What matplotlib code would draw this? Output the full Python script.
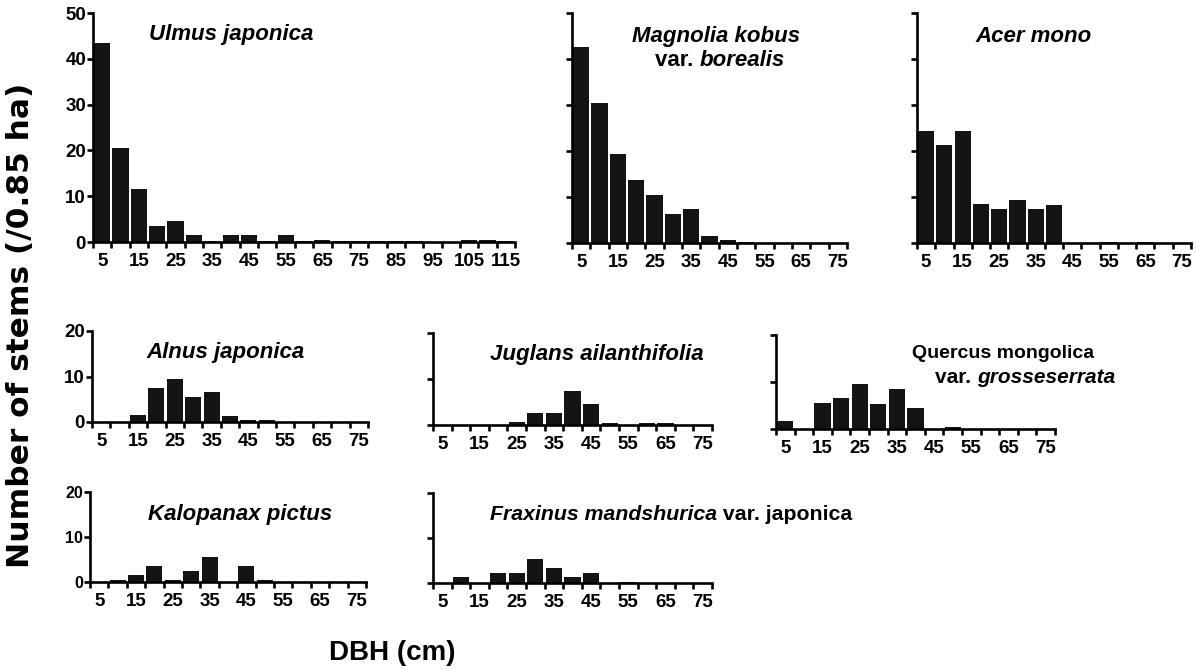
import matplotlib
matplotlib.use("Agg")
import matplotlib.pyplot as plt

plt.rcParams['font.family'] = ['Liberation Sans', 'DejaVu Sans']
plt.rcParams['font.weight'] = 'bold'

# ---------------- data ----------------
dbh_to115 = [5, 10, 15, 20, 25, 30, 35, 40, 45, 50, 55, 60, 65, 70, 75, 80,
             85, 90, 95, 100, 105, 110, 115]
dbh_to75 = [5, 10, 15, 20, 25, 30, 35, 40, 45, 50, 55, 60, 65, 70, 75]

labels_to115 = [5, 15, 25, 35, 45, 55, 65, 75, 85, 95, 105, 115]
labels_to75 = [5, 15, 25, 35, 45, 55, 65, 75]

ulmus = [43.5, 20.5, 11.5, 3.5, 4.5, 1.5, 0.2, 1.5, 1.5, 0.2, 1.5, 0.2,
         0.4, 0.15, 0.15, 0.15, 0.15, 0.15, 0.1, 0.1, 0.4, 0.4, 0.3]
magnolia = [42.5, 30.4, 19.4, 13.6, 10.5, 6.4, 7.4, 1.6, 0.6, 0.15, 0.1,
            0.1, 0.1, 0.1, 0.1]
acer = [24.4, 21.3, 24.4, 8.4, 7.3, 9.4, 7.3, 8.3, 0.1, 0.1, 0.2, 0.1,
        0.2, 0.1, 0.1]
alnus = [0, 0, 1.5, 7.4, 9.5, 5.5, 6.5, 1.3, 0.5, 0.5, 0.1, 0.1, 0.1, 0.1, 0.1]
juglans = [0.1, 0.1, 0.1, 0.1, 0.7, 2.7, 2.7, 7.5, 4.6, 0.5, 0.1, 0.5, 0.5,
           0.1, 0.1]
quercus = [1.6, 0, 5.6, 6.6, 9.6, 5.4, 8.5, 4.5, 0, 0.35, 0, 0, 0, 0, 0]
kalopanax = [0, 0.5, 1.5, 3.6, 0.5, 2.5, 5.5, 0, 3.6, 0.4, 0, 0, 0, 0, 0]
fraxinus = [0, 1.3, 0, 2.3, 2.3, 5.3, 3.3, 1.3, 2.3, 0, 0.3, 0, 0, 0, 0]

# ---------------- layout ----------------
W, H = 1196, 670
fig = plt.figure(figsize=(W / 100, H / 100), dpi=100)

BAR_COLOR = '#141414'
TICK_FS = 13.5


def panel(left, right, top, bottom, classes, values, xlabels, ymax, ystep,
          ylabels_on, yfs=TICK_FS):
    ax = fig.add_axes([left / W, 1 - bottom / H, (right - left) / W,
                       (bottom - top) / H])
    width = classes[1] - classes[0]
    ax.bar(classes, values, width=width * 0.88, color=BAR_COLOR,
           edgecolor='none', zorder=2)
    lo = classes[0] - width / 2
    hi = classes[-1] + width / 2
    ax.set_xlim(lo, hi)
    ax.set_ylim(0, ymax)
    for s in ('top', 'right'):
        ax.spines[s].set_visible(False)
    for s in ('left', 'bottom'):
        ax.spines[s].set_linewidth(1.9)
        ax.spines[s].set_zorder(3)
    edges = [c - width / 2 for c in classes] + [hi]
    ax.set_xticks(edges)
    ax.set_xticklabels([])
    ax.set_xticks(xlabels, minor=True)
    ax.set_xticklabels([str(v) for v in xlabels], minor=True,
                       fontsize=TICK_FS, fontweight='bold')
    ax.tick_params(axis='x', which='major', length=4, width=1.9,
                   direction='out')
    ax.tick_params(axis='x', which='minor', length=0, pad=8)
    yt = list(range(0, ymax + 1, ystep))
    ax.set_yticks(yt)
    if ylabels_on:
        ax.set_yticklabels([str(v) for v in yt], fontsize=yfs,
                           fontweight='bold')
    else:
        ax.set_yticklabels([])
    ax.tick_params(axis='y', length=4, width=1.9, pad=1, direction='out')
    ax.patch.set_alpha(0)
    return ax


panel(93, 515, 13, 242, dbh_to115, ulmus, labels_to115, 50, 10, True)
panel(572, 847, 13, 243, dbh_to75, magnolia, labels_to75, 50, 10, False)
panel(917, 1191, 13, 243, dbh_to75, acer, labels_to75, 50, 10, False)
panel(92, 368, 331, 422, dbh_to75, alnus, labels_to75, 20, 10, True)
panel(433, 712, 333, 425, dbh_to75, juglans, labels_to75, 20, 10, False)
panel(776, 1055, 335, 429, dbh_to75, quercus, labels_to75, 20, 10, False)
panel(90, 366, 492, 582, dbh_to75, kalopanax, labels_to75, 20, 10, True,
      yfs=11.5)
panel(433, 712, 493, 583, dbh_to75, fraxinus, labels_to75, 20, 10, False)

# ---------------- titles ----------------
TFS = 16


def ftext(x, y, s, style='italic', fs=TFS):
    return fig.text(x / W, 1 - y / H, s, fontsize=fs, fontweight='bold',
                    fontstyle=style, ha='left', va='baseline')


def two_part(x, y, first, second, s1, s2, fs=TFS):
    t = ftext(x, y, first, s1, fs)
    ann = matplotlib.text.Annotation(
        second, xy=(1, 0), xycoords=t, ha='left', va='bottom',
        fontsize=fs, fontweight='bold', fontstyle=s2)
    ann.set_figure(fig)
    fig.texts.append(ann)


ftext(149, 40, 'Ulmus japonica')
ftext(632, 42, 'Magnolia kobus')
two_part(655, 66, 'var. ', 'borealis', 'normal', 'italic')
ftext(975, 42, 'Acer mono')
ftext(146, 358, 'Alnus japonica')
ftext(490, 360, 'Juglans ailanthifolia')
ftext(912, 358, 'Quercus mongolica', 'normal', 14)
two_part(935, 383, 'var. ', 'grosseserrata', 'normal', 'italic', 15)
ftext(148, 520, 'Kalopanax pictus')
two_part(490, 520, 'Fraxinus mandshurica', ' var. japonica', 'italic',
         'normal', 15.3)

# ---------------- axis labels ----------------
fig.text(21 / W, 1 - 325 / H, 'Number of stems (/0.85 ha)', rotation=90,
         fontsize=22.5, fontweight='bold', family='DejaVu Sans',
         ha='center', va='center')
fig.text(392 / W, 1 - 653 / H, 'DBH (cm)', fontsize=20, fontweight='bold',
         ha='center', va='center')

fig.savefig('out.png', dpi=100)
